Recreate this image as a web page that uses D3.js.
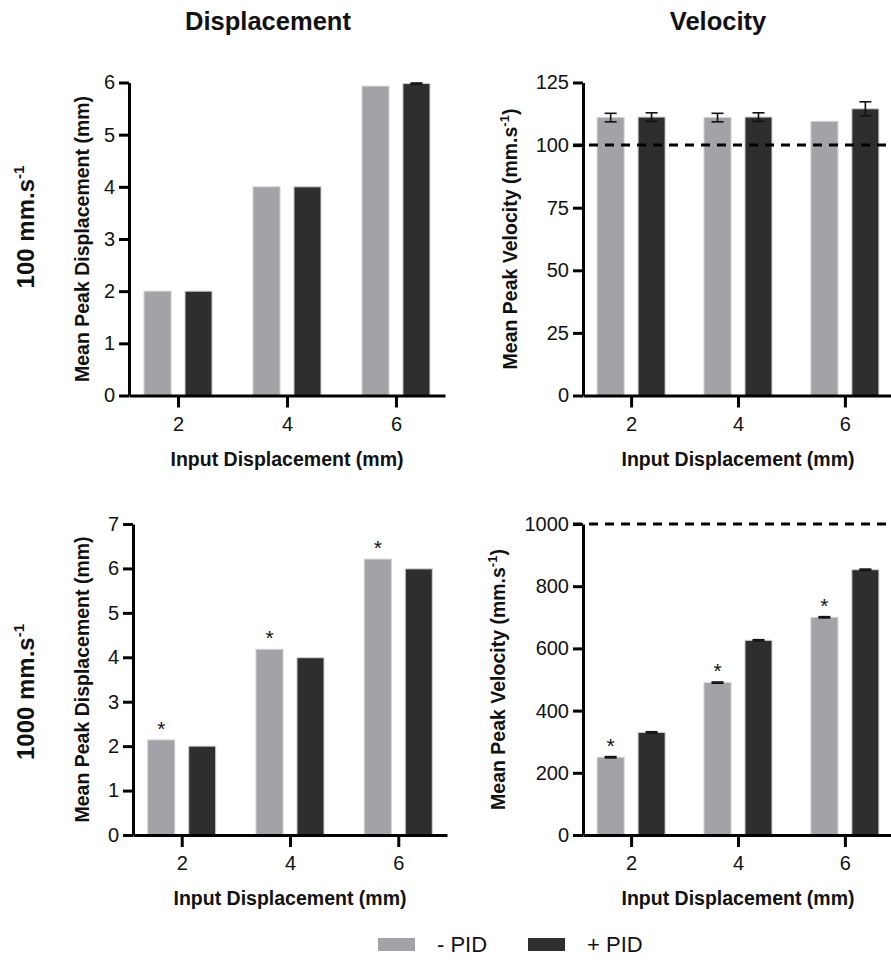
<!DOCTYPE html>
<html>
<head>
<meta charset="utf-8">
<script src="https://cdn.jsdelivr.net/npm/d3@7"></script>
<style>
	body { margin: 0; background: #fff; }
	text { font-family: 'Liberation Sans', Arial, sans-serif; fill: #111; }
</style>
</head>
<body>
<script>
// Data
var groups = ['2', '4', '6'];
var series = ['- PID', '+ PID'];

var dispSlowMinus = [2.0, 4.0, 5.93];
var dispSlowPlus = [2.0, 4.0, 5.98];
var dispSlowPlusErr = [0, 0, 0.01];

var velSlowMinus = [111.0, 111.0, 109.5];
var velSlowPlus = [111.2, 111.2, 114.5];
var velSlowMinusErr = [1.7, 1.7, 0];
var velSlowPlusErr = [1.7, 1.7, 2.8];

var dispFastMinus = [2.14, 4.18, 6.21];
var dispFastPlus = [2.0, 3.99, 5.99];

var velFastMinus = [250, 490, 700];
var velFastPlus = [330, 626, 853];
var velFastMinusErr = [2, 2, 2];
var velFastPlusErr = [2, 2, 2];

var fastSignificant = [true, true, true];

var dispSlowTicks = [0, 1, 2, 3, 4, 5, 6];
var velSlowTicks = [0, 25, 50, 75, 100, 125];
var dispFastTicks = [0, 1, 2, 3, 4, 5, 6, 7];
var velFastTicks = [0, 200, 400, 600, 800, 1000];

var colors = ['#a3a2a7', '#2e2e2e'];
var zeros = [0, 0, 0];

// Panels
var panels = [
	{ left: 129, right: 445, top: 82.5, bottom: 395.5, domain: [0, 6], ticks: dispSlowTicks,
		values: [dispSlowMinus, dispSlowPlus], errs: [zeros, dispSlowPlusErr], ylabel: 'Mean Peak Displacement (mm)', sup: false, ylabelX: 89 },
	{ left: 583, right: 893, top: 82.5, bottom: 395.5, domain: [0, 125], ticks: velSlowTicks,
		values: [velSlowMinus, velSlowPlus], errs: [velSlowMinusErr, velSlowPlusErr], ylabel: 'Mean Peak Velocity (mm.s', sup: true, ylabelX: 517, ref: 100 },
	{ left: 133, right: 447, top: 524, bottom: 835, domain: [0, 7], ticks: dispFastTicks,
		values: [dispFastMinus, dispFastPlus], errs: [zeros, zeros], ylabel: 'Mean Peak Displacement (mm)', sup: false, ylabelX: 89, sig: fastSignificant },
	{ left: 583, right: 893, top: 524, bottom: 835, domain: [0, 1000], ticks: velFastTicks,
		values: [velFastMinus, velFastPlus], errs: [velFastMinusErr, velFastPlusErr], ylabel: 'Mean Peak Velocity (mm.s', sup: true, ylabelX: 505, ref: 1000, sig: fastSignificant }
];

var svg = d3.select('body').append('svg')
	.attr('width', 891)
	.attr('height', 964);

function drawPanel(p) {
	var x = d3.scalePoint().domain(groups).range([p.left, p.right]).padding(0.45);
	var xSub = d3.scaleBand().domain(series).range([-34, 34]).paddingInner(0.34);
	var y = d3.scaleLinear().domain(p.domain).range([p.bottom, p.top]);
	var g = svg.append('g');

	// Bars
	series.forEach(function(s, si) {
		g.selectAll(null)
			.data(p.values[si])
			.enter()
			.append('rect')
				.attr('x', function(d, i) { return x(groups[i]) + xSub(s); })
				.attr('y', function(d) { return y(d); })
				.attr('width', xSub.bandwidth())
				.attr('height', function(d) { return p.bottom - y(d); })
				.attr('fill', colors[si])
				.attr('stroke', '#d2d2d2')
				.attr('stroke-width', 1);
	});

	// Error bars
	series.forEach(function(s, si) {
		var cx = function(i) { return x(groups[i]) + xSub(s) + xSub.bandwidth() / 2; };
		p.values[si].forEach(function(v, i) {
			var e = p.errs[si][i];
			if (!e) return;
			var eg = g.append('g').attr('stroke', '#111').attr('stroke-width', 1.6);
			eg.append('line').attr('x1', cx(i)).attr('x2', cx(i)).attr('y1', y(v - e)).attr('y2', y(v + e));
			eg.append('line').attr('x1', cx(i) - 6).attr('x2', cx(i) + 6).attr('y1', y(v - e)).attr('y2', y(v - e));
			eg.append('line').attr('x1', cx(i) - 6).attr('x2', cx(i) + 6).attr('y1', y(v + e)).attr('y2', y(v + e));
		});
	});

	// Significance marks
	if (p.sig) {
		g.selectAll(null)
			.data(p.values[0])
			.enter()
			.filter(function(d, i) { return p.sig[i]; })
			.append('text')
				.attr('x', function(d, i) { return x(groups[i]) + xSub(series[0]) + xSub.bandwidth() / 2; })
				.attr('y', function(d, i) { return y(d + p.errs[0][i]) - 4; })
				.attr('text-anchor', 'middle')
				.style('font-size', '21px')
				.text('*');
	}

	// Reference line
	if (p.ref !== undefined) {
		g.append('line')
			.attr('x1', p.left - 10)
			.attr('x2', 891)
			.attr('y1', y(p.ref))
			.attr('y2', y(p.ref))
			.attr('stroke', '#000')
			.attr('stroke-width', 3)
			.attr('stroke-dasharray', '9,7');
	}

	// Axes
	var yAxis = g.append('g')
		.attr('transform', 'translate(' + p.left + ',0)')
		.call(d3.axisLeft(y).tickValues(p.ticks).tickFormat(d3.format('d')).tickSize(10).tickSizeOuter(0).tickPadding(4));
	var xAxis = g.append('g')
		.attr('transform', 'translate(0,' + p.bottom + ')')
		.call(d3.axisBottom(x).tickSize(12).tickSizeOuter(0).tickPadding(9));
	[yAxis, xAxis].forEach(function(a) {
		a.select('.domain').attr('stroke', '#000').attr('stroke-width', 3);
		a.selectAll('.tick line').attr('stroke', '#000').attr('stroke-width', 3);
		a.selectAll('.tick text')
			.style('font-family', "'Liberation Sans', Arial, sans-serif")
			.style('font-size', '20px')
			.attr('fill', '#1a1a1a');
	});

	// X label
	g.append('text')
		.attr('x', (p.left + p.right) / 2)
		.attr('y', p.bottom + 70)
		.attr('text-anchor', 'middle')
		.style('font-size', '19.5px')
		.style('font-weight', 'bold')
		.text('Input Displacement (mm)');

	// Y label
	var yl = g.append('text')
		.attr('transform', 'translate(' + p.ylabelX + ',' + (p.top + p.bottom) / 2 + ') rotate(-90)')
		.attr('text-anchor', 'middle')
		.style('font-size', '19.5px')
		.style('font-weight', 'bold');
	yl.append('tspan').text(p.ylabel);
	if (p.sup) {
		yl.append('tspan').attr('dy', -8).style('font-size', '13px').text('-1');
		yl.append('tspan').attr('dy', 8).text(')');
	}
}

panels.forEach(drawPanel);

// Column titles
svg.append('text')
	.attr('x', 268).attr('y', 29.5)
	.attr('text-anchor', 'middle')
	.style('font-size', '25.5px').style('font-weight', 'bold')
	.text('Displacement');
svg.append('text')
	.attr('x', 718).attr('y', 29.5)
	.attr('text-anchor', 'middle')
	.style('font-size', '25.5px').style('font-weight', 'bold')
	.text('Velocity');

// Row labels
var rowLabels = [{ text: '100 mm.s', cy: 227 }, { text: '1000 mm.s', cy: 692 }];
rowLabels.forEach(function(r) {
	var t = svg.append('text')
		.attr('transform', 'translate(34,' + r.cy + ') rotate(-90)')
		.attr('text-anchor', 'middle')
		.style('font-size', '24px')
		.style('font-weight', 'bold');
	t.append('tspan').text(r.text);
	t.append('tspan').attr('dy', -10).style('font-size', '15px').text('-1');
});

// Legend
var legend = svg.append('g').attr('transform', 'translate(378,938)');
series.forEach(function(s, i) {
	legend.append('rect')
		.attr('x', i * 150)
		.attr('y', 0)
		.attr('width', 37)
		.attr('height', 13)
		.attr('fill', colors[i]);
	legend.append('text')
		.attr('x', i * 150 + 59)
		.attr('y', 14)
		.style('font-size', '22px')
		.attr('fill', '#222')
		.text(s);
});
</script>
</body>
</html>
